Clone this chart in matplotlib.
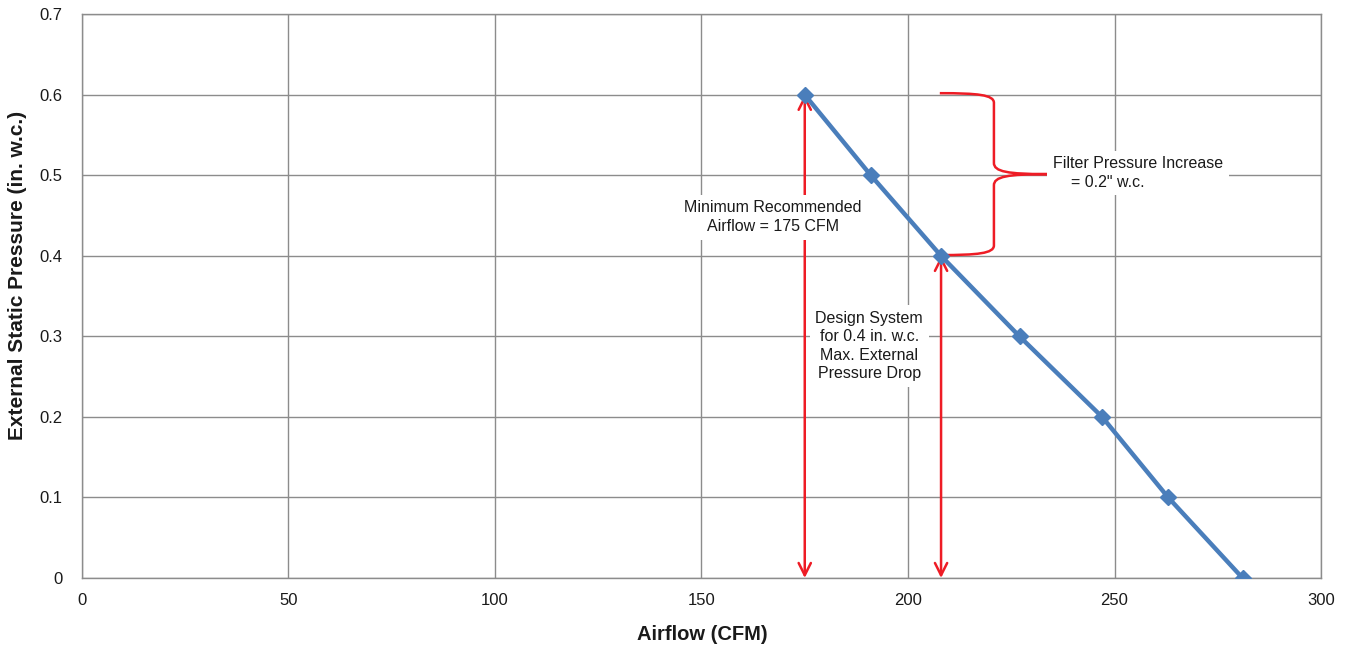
import numpy as np
import matplotlib.pyplot as plt
from matplotlib.path import Path
from matplotlib.patches import PathPatch

plt.rcParams['font.family'] = ['Liberation Sans', 'DejaVu Sans']

# Fan curve
airflow = [175, 191, 208, 227, 247, 263, 281]
pressure = [0.6, 0.5, 0.4, 0.3, 0.2, 0.1, 0.0]

x_ticks = [0, 50, 100, 150, 200, 250, 300]
y_ticks = [0, 0.1, 0.2, 0.3, 0.4, 0.5, 0.6, 0.7]
y_labels = ["0", "0.1", "0.2", "0.3", "0.4", "0.5", "0.6", "0.7"]

min_airflow = 175
design_airflow = 208
design_pressure = 0.4
filter_increase = 0.2

grid_col = '#8c8c8c'
red = '#ee1c25'
blue = '#4a7ebb'
txt = '#1a1a1a'

fig = plt.figure(figsize=(13.48, 6.48), dpi=100)
ax = fig.add_axes([0.0608, 0.108, 0.9192, 0.870])

ax.set_xlim(0, 300)
ax.set_ylim(0, 0.7)
ax.set_xticks(x_ticks)
ax.set_yticks(y_ticks)
ax.set_yticklabels(y_labels)
ax.tick_params(length=0, labelsize=12, labelcolor=txt)
ax.tick_params(axis='y', pad=14)
ax.tick_params(axis='x', pad=11)
ax.grid(True, color=grid_col, linewidth=1.0)
ax.set_axisbelow(True)
for s in ax.spines.values():
    s.set_color(grid_col)
    s.set_linewidth(1.0)

ax.plot(airflow, pressure, color=blue, linewidth=3.2, marker='D', markersize=8, zorder=5)

# double headed arrows
arrow_kw = dict(arrowstyle='<->', color=red, lw=1.8, mutation_scale=22, shrinkA=0, shrinkB=0)
ax.annotate('', xy=(min_airflow, 0), xytext=(min_airflow, pressure[0]), arrowprops=arrow_kw, zorder=4)
ax.annotate('', xy=(design_airflow, 0), xytext=(design_airflow, design_pressure), arrowprops=arrow_kw, zorder=4)

# curly brace from design pressure up by the filter increase
x0 = design_airflow - 0.3
xv = 220.8
xt = 233.9
ylo = design_pressure + 0.001
yhi = design_pressure + filter_increase + 0.002
ym = (ylo + yhi) / 2
verts = [
    (x0, yhi), (x0 + (xv - x0) * 0.7, yhi), (xv, yhi - 0.002), (xv, yhi - 0.012),
    (xv, ym + 0.014),
    (xv, ym + 0.003), (xv + (xt - xv) * 0.25, ym), (xt, ym),
    (xv + (xt - xv) * 0.25, ym), (xv, ym - 0.003), (xv, ym - 0.014),
    (xv, ylo + 0.012),
    (xv, ylo + 0.002), (x0 + (xv - x0) * 0.7, ylo), (x0, ylo),
]
codes = [Path.MOVETO, Path.CURVE4, Path.CURVE4, Path.CURVE4,
         Path.LINETO,
         Path.CURVE4, Path.CURVE4, Path.CURVE4,
         Path.CURVE4, Path.CURVE4, Path.CURVE4,
         Path.LINETO,
         Path.CURVE4, Path.CURVE4, Path.CURVE4]
ax.add_patch(PathPatch(Path(verts, codes), fill=False, edgecolor=red, lw=1.8, zorder=4))

box = dict(facecolor='white', edgecolor='none', pad=4)
ax.text(167.3, 0.448, "Minimum Recommended\nAirflow = 175 CFM", ha='center', va='center',
        fontsize=11.5, color=txt, bbox=box, zorder=6, linespacing=1.3)
ax.text(190.6, 0.288, "Design System\nfor 0.4 in. w.c.\nMax. External\nPressure Drop", ha='center',
        va='center', fontsize=11.5, color=txt, bbox=box, zorder=6, linespacing=1.3)
ax.text(235.1, 0.503, "Filter Pressure Increase\n    = 0.2\" w.c.", ha='left', va='center',
        fontsize=11.5, color=txt, bbox=box, zorder=6, linespacing=1.3, multialignment='left')

# axis titles placed like the original
fig.text(702 / 1348, 1 - 635 / 648, "Airflow (CFM)", ha='center', va='center',
         fontsize=14.5, fontweight='bold', color=txt)
fig.text(18 / 1348, 1 - 275 / 648, "External Static Pressure (in. w.c.)", ha='center', va='center',
         rotation=90, fontsize=15, fontweight='bold', color=txt)

fig.savefig('out.png', dpi=100)
